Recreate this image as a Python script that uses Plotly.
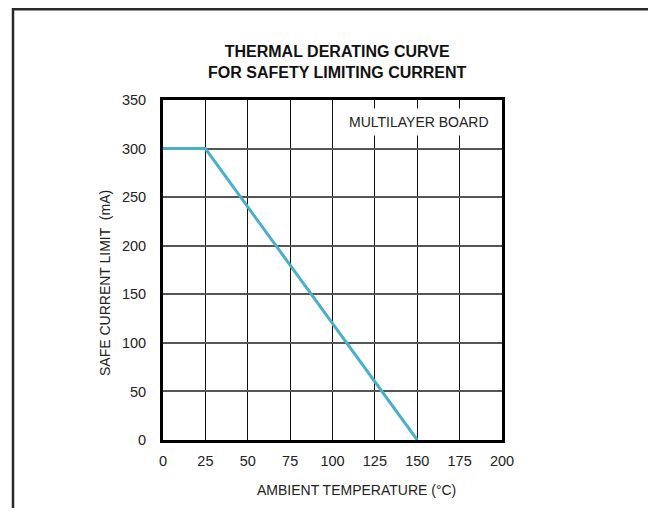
import plotly.graph_objects as go

temperature_c = [0, 25, 150]
safe_current_ma = [300, 300, 0]
x_ticks = [0, 25, 50, 75, 100, 125, 150, 175, 200]
y_ticks = [0, 50, 100, 150, 200, 250, 300, 350]

# page body has an 8px margin; work in reference (screen) pixel coords and shift
OFF = 8
W, H = 648, 500
L, R, T, B = 163 - OFF, 502 - OFF, 100 - OFF, 440 - OFF
pw, ph = R - L, B - T

def px(x):
    return (x - OFF - L) / pw

def py(y):
    return (B - (y - OFF)) / ph

font = "Arial, Liberation Sans, sans-serif"

fig = go.Figure()
fig.add_trace(go.Scatter(x=temperature_c, y=safe_current_ma, mode="lines",
                         line=dict(color="#4aafc9", width=3), cliponaxis=False,
                         showlegend=False, hoverinfo="skip"))

fig.update_layout(
    width=W, height=H,
    margin=dict(l=L, r=W - R, t=T, b=H - B, pad=0),
    paper_bgcolor="white", plot_bgcolor="white",
    font=dict(family=font, size=14, color="#222"),
    xaxis=dict(range=[0, 200], tickvals=x_ticks, showgrid=True, gridcolor="#111",
               gridwidth=1, zeroline=False, showline=True, linecolor="#000",
               linewidth=3, mirror=True, ticks="", ticklabelstandoff=6,
               tickfont=dict(size=14.5, color="#222")),
    yaxis=dict(range=[0, 350], tickvals=y_ticks, showgrid=True, gridcolor="#555",
               gridwidth=1.5, zeroline=False, showline=True, linecolor="#000",
               linewidth=3, mirror=True, ticks="", ticklabelstandoff=11,
               tickfont=dict(size=14.5, color="#222")),
    shapes=[dict(type="path", xref="paper", yref="paper",
                 path=f"M {px(13)} {py(540)} L {px(13)} {py(9.2)} L {px(652)} {py(9.2)} L {px(652)} {py(540)}",
                 line=dict(color="#2a2a2a", width=2.5))],
    annotations=[
        dict(text="<b>THERMAL DERATING CURVE<br>FOR SAFETY LIMITING CURRENT</b>",
             xref="paper", yref="paper", x=px(337), y=py(62), showarrow=False,
             font=dict(size=16, color="#111"), xanchor="center", yanchor="middle"),
        dict(text="MULTILAYER BOARD", xref="paper", yref="paper", x=px(419), y=py(122),
             showarrow=False, bgcolor="white", borderpad=5,
             font=dict(size=14, color="#222"), xanchor="center", yanchor="middle"),
        dict(text="AMBIENT TEMPERATURE (°C)", xref="paper", yref="paper",
             x=px(356), y=py(490), showarrow=False,
             font=dict(size=14, color="#222"), xanchor="center", yanchor="middle"),
        dict(text="SAFE CURRENT LIMIT  (mA)", xref="paper", yref="paper",
             x=px(105), y=py(283), showarrow=False, textangle=-90,
             font=dict(size=14, color="#222"), xanchor="center", yanchor="middle"),
    ],
)

fig.write_html("out.html")
